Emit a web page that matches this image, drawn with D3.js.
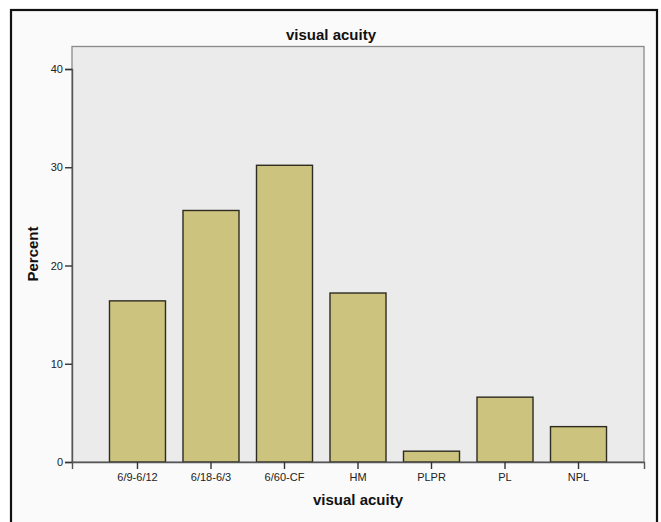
<!DOCTYPE html>
<html><head><meta charset="utf-8">
<script src="https://cdn.jsdelivr.net/npm/d3@7"></script>
<style>body{margin:0;background:#fff}svg{display:block}</style>
</head><body>
<script>
const categories = ["6/9-6/12","6/18-6/3","6/60-CF","HM","PLPR","PL","NPL"];
const percents = [16.4, 25.6, 30.2, 17.2, 1.1, 6.6, 3.6];
const yTicks = [0,10,20,30,40];
const chartTitle = "visual acuity";
const xTitle = "visual acuity";
const yTitle = "Percent";

const W = 661, H = 522;
const svg = d3.select("body").append("svg").attr("width", W).attr("height", H);
const font = "Liberation Sans, Arial, sans-serif";

// outer frame
svg.append("rect").attr("x", 11).attr("y", 10).attr("width", 646).attr("height", 530)
  .attr("fill", "#fafafa").attr("stroke", "#111").attr("stroke-width", 2.2);

const pl = 72, pr = 644, pt = 46.5, pb = 462;
const x = d3.scaleBand().domain(categories).range([pl, pr]).paddingInner(0.238).paddingOuter(0.51);
const y = d3.scaleLinear().domain([0, 40]).range([pb, 69]);

svg.append("rect").attr("x", pl).attr("y", pt).attr("width", pr - pl).attr("height", pb - pt)
  .attr("fill", "#ebebeb").attr("stroke", "#8a8a8a").attr("stroke-width", 1.3);

svg.append("g").selectAll("rect").data(categories).join("rect")
  .attr("x", d => x(d)).attr("width", x.bandwidth())
  .attr("y", (d, i) => y(percents[i])).attr("height", (d, i) => pb - y(percents[i]))
  .attr("fill", "#ccc47e").attr("stroke", "#2e2b20").attr("stroke-width", 1.4);

// axes
const yAxis = svg.append("g").attr("transform", `translate(${pl},0)`)
  .call(d3.axisLeft(y).tickValues(yTicks).tickSize(7).tickPadding(2));
const xAxis = svg.append("g").attr("transform", `translate(0,${pb})`)
  .call(d3.axisBottom(x).tickSize(7).tickPadding(4));
[yAxis, xAxis].forEach(g => {
  g.select(".domain").attr("stroke", "#555").attr("stroke-width", 1.4);
  g.selectAll(".tick line").attr("stroke", "#333").attr("stroke-width", 1.4);
  g.selectAll(".tick text").attr("fill", "#222").style("font-family", font).style("font-size", "11px");
});

svg.append("text").attr("x", 331).attr("y", 40).attr("text-anchor", "middle")
  .style("font-family", font).style("font-weight", "bold").style("font-size", "15px").attr("fill", "#111")
  .text(chartTitle);
svg.append("text").attr("x", 358).attr("y", 505).attr("text-anchor", "middle")
  .style("font-family", font).style("font-weight", "bold").style("font-size", "15px").attr("fill", "#111")
  .text(xTitle);
svg.append("text").attr("transform", `translate(38,254) rotate(-90)`).attr("text-anchor", "middle")
  .style("font-family", font).style("font-weight", "bold").style("font-size", "15px").attr("fill", "#111")
  .text(yTitle);
</script>
</body></html>
